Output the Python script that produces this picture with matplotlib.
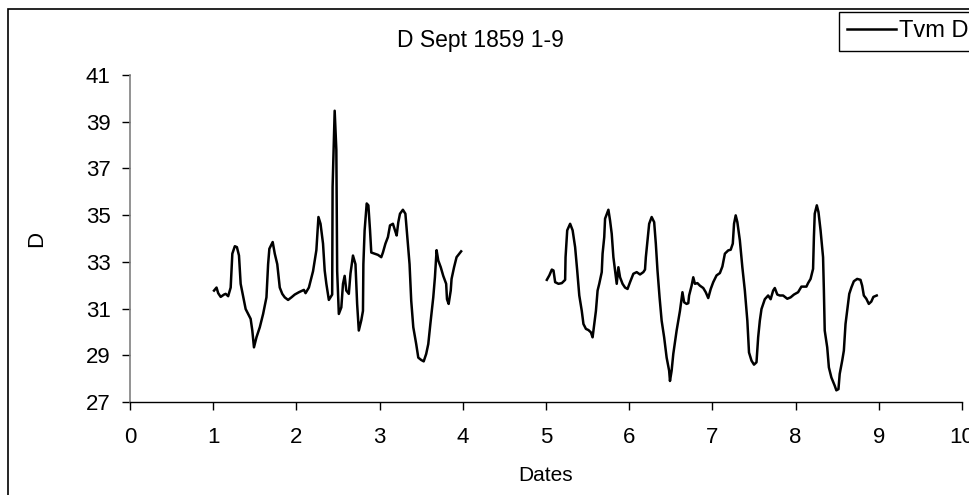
import numpy as np
import matplotlib.pyplot as plt
from matplotlib.patches import Rectangle

plt.rcParams['font.family'] = ['Liberation Sans', 'DejaVu Sans']

# readings, first block (days 1-4)
dates_a = [1.01, 1.04, 1.06, 1.09, 1.13, 1.15, 1.18, 1.21, 1.23, 1.26, 1.285, 1.31,
           1.33, 1.37, 1.39, 1.42, 1.45, 1.47, 1.49, 1.52, 1.56, 1.60, 1.64, 1.66,
           1.675, 1.715, 1.74, 1.77, 1.80, 1.83, 1.86, 1.90, 1.94, 1.98, 2.03, 2.09,
           2.11, 2.15, 2.20, 2.24, 2.265, 2.29, 2.32, 2.34, 2.36, 2.39, 2.43, 2.435,
           2.46, 2.48, 2.49, 2.51, 2.54, 2.56, 2.58, 2.60, 2.63, 2.65, 2.68, 2.71,
           2.73, 2.75, 2.78, 2.80, 2.805, 2.82, 2.845, 2.865, 2.885, 2.90, 2.94, 2.98,
           3.02, 3.04, 3.07, 3.10, 3.125, 3.16, 3.185, 3.205, 3.225, 3.245, 3.28, 3.31,
           3.33, 3.36, 3.38, 3.405, 3.44, 3.465, 3.50, 3.53, 3.56, 3.585, 3.61, 3.645,
           3.665, 3.685, 3.705, 3.735, 3.765, 3.80, 3.81, 3.83, 3.855, 3.865, 3.895,
           3.925, 3.98]
tvm_a = [31.77, 31.9, 31.66, 31.5, 31.6, 31.63, 31.53, 31.9, 33.35, 33.67, 33.63, 33.27,
         32.06, 31.34, 30.98, 30.77, 30.56, 30.06, 29.34, 29.77, 30.2, 30.77, 31.48, 32.9,
         33.56, 33.85, 33.35, 32.9, 31.9, 31.63, 31.48, 31.37, 31.48, 31.6, 31.7, 31.8,
         31.66, 31.9, 32.6, 33.5, 34.92, 34.63, 33.78, 32.63, 32.06, 31.37, 31.6, 36.2,
         39.47, 37.8, 32.6, 30.77, 31.05, 32.06, 32.4, 31.77, 31.63, 32.5, 33.27, 32.9,
         31.2, 30.06, 30.5, 30.9, 32.9, 34.35, 35.5, 35.42, 34.35, 33.4, 33.35, 33.3,
         33.2, 33.4, 33.78, 34.06, 34.56, 34.63, 34.35, 34.13, 34.7, 35.06, 35.23, 35.06,
         34.2, 32.9, 31.34, 30.2, 29.48, 28.9, 28.8, 28.74, 29.06, 29.48, 30.34, 31.48,
         32.34, 33.5, 33.06, 32.77, 32.4, 32.06, 31.4, 31.2, 31.77, 32.27, 32.77,
         33.2, 33.45]

# readings, second block (days 5-9)
dates_b = [5.01, 5.04, 5.07, 5.09, 5.11, 5.15, 5.19, 5.23, 5.235, 5.255, 5.29, 5.32,
           5.35, 5.375, 5.40, 5.43, 5.45, 5.48, 5.51, 5.54, 5.56, 5.58, 5.60, 5.62,
           5.64, 5.67, 5.68, 5.70, 5.71, 5.75, 5.77, 5.79, 5.81, 5.83, 5.85, 5.87,
           5.89, 5.92, 5.95, 5.98, 6.01, 6.05, 6.09, 6.13, 6.17, 6.19, 6.20, 6.22,
           6.24, 6.27, 6.30, 6.32, 6.34, 6.365, 6.39, 6.42, 6.45, 6.48, 6.49, 6.51,
           6.53, 6.57, 6.61, 6.64, 6.66, 6.69, 6.71, 6.72, 6.75, 6.77, 6.79, 6.82,
           6.85, 6.89, 6.92, 6.95, 6.98, 7.01, 7.05, 7.09, 7.12, 7.15, 7.19, 7.22,
           7.245, 7.26, 7.28, 7.30, 7.33, 7.36, 7.39, 7.42, 7.44, 7.47, 7.50, 7.53,
           7.55, 7.57, 7.59, 7.63, 7.67, 7.70, 7.73, 7.75, 7.78, 7.81, 7.85, 7.90,
           7.94, 7.98, 8.03, 8.07, 8.13, 8.15, 8.18, 8.21, 8.22, 8.23, 8.255, 8.275,
           8.30, 8.33, 8.34, 8.35, 8.38, 8.40, 8.43, 8.47, 8.49, 8.515, 8.53, 8.56,
           8.58, 8.60, 8.62, 8.645, 8.67, 8.70, 8.74, 8.78, 8.80, 8.82, 8.85, 8.88,
           8.91, 8.935, 8.975]
tvm_b = [32.23, 32.42, 32.67, 32.63, 32.13, 32.06, 32.09, 32.23, 33.2, 34.35, 34.63, 34.35,
         33.63, 32.63, 31.56, 30.9, 30.34, 30.13, 30.08, 29.98, 29.77, 30.34, 30.9, 31.77,
         32.06, 32.56, 33.35, 34.06, 34.85, 35.23, 34.77, 34.2, 33.2, 32.63, 32.06, 32.77,
         32.34, 32.06, 31.9, 31.84, 32.13, 32.49, 32.56, 32.46, 32.56, 32.67, 33.2, 33.92,
         34.63, 34.92, 34.7, 33.78, 32.63, 31.48, 30.48, 29.77, 28.9, 28.34, 27.9, 28.34,
         29.06, 30.06, 30.9, 31.7, 31.27, 31.2, 31.23, 31.56, 31.98, 32.34, 32.06, 32.09,
         31.98, 31.88, 31.7, 31.45, 31.84, 32.13, 32.42, 32.52, 32.8, 33.35, 33.49, 33.52,
         33.78, 34.63, 34.99, 34.7, 33.92, 32.77, 31.77, 30.48, 29.12, 28.77, 28.6, 28.7,
         29.77, 30.48, 30.98, 31.4, 31.56, 31.4, 31.77, 31.88, 31.6, 31.56, 31.56, 31.42,
         31.48, 31.6, 31.7, 31.94, 31.94, 32.09, 32.27, 32.7, 34.06, 35.06, 35.42, 35.13,
         34.35, 33.2, 31.77, 30.06, 29.34, 28.48, 28.05, 27.7, 27.5, 27.55, 28.2, 28.77,
         29.2, 30.34, 30.9, 31.63, 31.9, 32.17, 32.27, 32.23, 31.98, 31.56, 31.42, 31.2,
         31.3, 31.5, 31.56]

x_ticks = list(range(0, 11))
y_ticks = [27, 29, 31, 33, 35, 37, 39, 41]

W, H = 970, 495
fig = plt.figure(figsize=(W / 100, H / 100), dpi=100)
ax = fig.add_axes([130 / W, 1 - 402 / H, (962 - 130) / W, (402 - 75) / H])

ax.plot(dates_a, tvm_a, color='black', lw=1.8, label='Tvm D')
ax.plot(dates_b, tvm_b, color='black', lw=1.8)

ax.set_xlim(0, 10)
ax.set_ylim(27, 41)
ax.set_xticks(x_ticks)
ax.set_yticks(y_ticks)
ax.tick_params(axis='both', labelsize=16, length=6, width=1, direction='out')
ax.tick_params(axis='x', pad=12)
ax.tick_params(axis='y', pad=8)
for s in ['top', 'right']:
    ax.spines[s].set_visible(False)
ax.spines['left'].set_color('#808080')
ax.spines['left'].set_linewidth(1.2)
ax.spines['bottom'].set_color('black')
ax.spines['bottom'].set_linewidth(1.0)

fig.text(480 / W, 1 - 40 / H, 'D Sept 1859 1-9', fontsize=16.5, ha='center', va='center')
ax.set_xlabel('Dates', fontsize=15, labelpad=13)
ax.set_ylabel('D', fontsize=16, labelpad=28)

# chart-area border
fig.patches.append(Rectangle((8 / W, -0.05), 1.1, 1 - 9 / H + 0.05, transform=fig.transFigure,
                             fill=False, edgecolor='black', lw=1.2))

fig.legend(loc='upper left', bbox_to_anchor=(839 / W, 1 - 12 / H), fontsize=17,
           frameon=True, fancybox=False, edgecolor='black', framealpha=1,
           borderaxespad=0, handlelength=2.05, handletextpad=0.15, borderpad=0.35)

fig.savefig('out.png', dpi=100)
